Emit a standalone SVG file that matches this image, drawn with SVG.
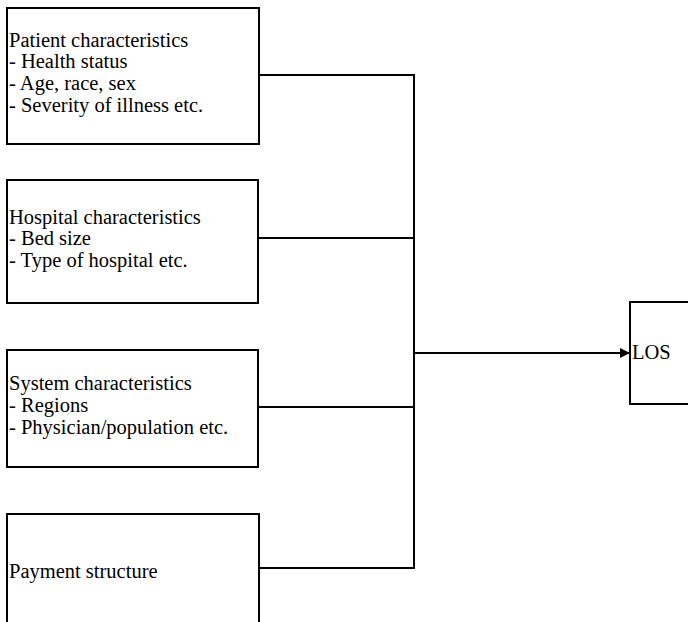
<svg xmlns="http://www.w3.org/2000/svg" width="688" height="622" viewBox="0 0 688 622">
<defs>
<style>
.box{fill:#fff;stroke:#000;stroke-width:2}
.ln{fill:none;stroke:#000;stroke-width:2}
text{font-family:"Liberation Serif","Times New Roman",serif;font-size:20.5px;fill:#000}
</style>
<marker id="ah" viewBox="0 0 10 10" refX="10" refY="5" markerWidth="5" markerHeight="5" orient="auto" markerUnits="strokeWidth">
<path d="M0,0 L10,5 L0,10 Z" fill="#000"/>
</marker>
</defs>
<rect width="688" height="622" fill="#fff"/>
<g id="connectors">
<polyline class="ln" points="259,75 414,75 414,568 259,568"/>
<line class="ln" x1="258" y1="238" x2="414" y2="238"/>
<line class="ln" x1="258" y1="407" x2="414" y2="407"/>
<line class="ln" x1="414" y1="353" x2="630" y2="353" marker-end="url(#ah)"/>
</g>
<g id="patient">
<rect class="box" x="7" y="8" width="252" height="136"/>
<text x="9" y="47">Patient characteristics</text>
<text x="9" y="68">- Health status</text>
<text x="9" y="90">- Age, race, sex</text>
<text x="9" y="112">- Severity of illness etc.</text>
</g>
<g id="hospital">
<rect class="box" x="7" y="180" width="251" height="123"/>
<text x="9" y="224">Hospital characteristics</text>
<text x="9" y="245">- Bed size</text>
<text x="9" y="267">- Type of hospital etc.</text>
</g>
<g id="system">
<rect class="box" x="7" y="350" width="251" height="117"/>
<text x="9" y="390">System characteristics</text>
<text x="9" y="412">- Regions</text>
<text x="9" y="434">- Physician/population etc.</text>
</g>
<g id="payment">
<rect class="box" x="7" y="514" width="252" height="120"/>
<text x="9" y="578">Payment structure</text>
</g>
<g id="los">
<rect class="box" x="630" y="302" width="70" height="102"/>
<text x="632" y="359">LOS</text>
</g>
</svg>
